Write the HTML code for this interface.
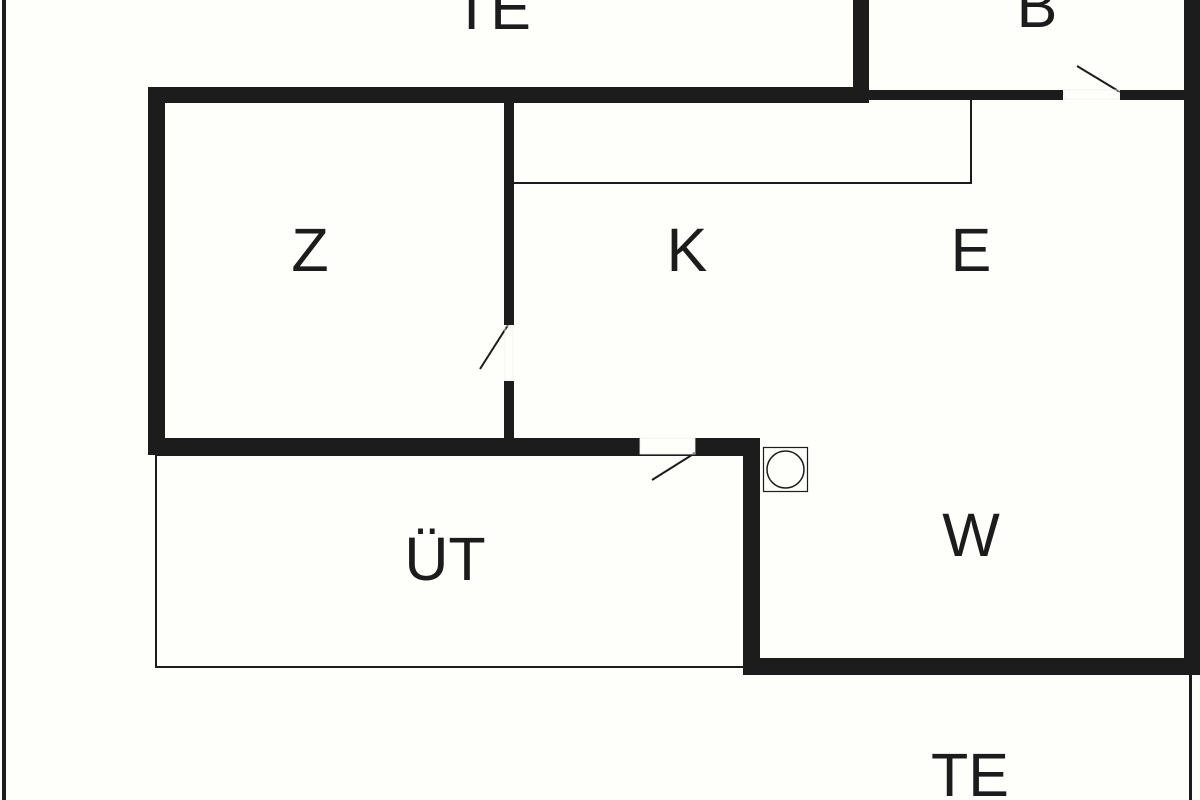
<!DOCTYPE html>
<html><head><meta charset="utf-8"><style>
html,body{margin:0;padding:0;background:#fefefa;}
svg{display:block}
text{font-family:"Liberation Sans",Arial,sans-serif;font-size:61px;fill:#1c1c1c;text-anchor:middle}
</style></head><body>
<svg width="1200" height="800" viewBox="0 0 1200 800" xmlns="http://www.w3.org/2000/svg">
<rect width="1200" height="800" fill="#fefefa"/>
<g fill="#1c1c1c">
<rect x="2" y="0" width="4" height="800"/>
<rect x="148" y="87" width="720" height="16"/>
<rect x="148" y="87" width="17" height="368"/>
<rect x="853" y="0" width="16" height="103"/>
<rect x="868" y="90" width="195" height="10"/>
<rect x="1120" y="90" width="70" height="10"/>
<rect x="1184" y="0" width="16" height="675"/>
<rect x="504" y="103" width="10" height="222"/>
<rect x="504" y="381" width="10" height="60"/>
<rect x="148" y="438" width="492" height="17"/>
<rect x="695" y="438" width="65" height="17"/>
<rect x="743" y="438" width="17" height="237"/>
<rect x="743" y="658" width="457" height="17"/>
<rect x="1189" y="675" width="3" height="125"/>
</g>
<g stroke="#1c1c1c" fill="none">
<polyline points="971,100 971,183 512,183" stroke-width="2"/>
<rect x="156" y="455" width="589" height="212" stroke-width="2"/>
<line x1="1077" y1="66" x2="1120" y2="92" stroke-width="2"/>
<line x1="508" y1="325" x2="480" y2="369" stroke-width="2"/>
<line x1="695" y1="453" x2="652" y2="480" stroke-width="2"/>
<rect x="763.5" y="447.5" width="44" height="44" stroke-width="1.2"/>
<circle cx="785.5" cy="469.5" r="18.5" stroke-width="1.5"/>
</g>
<g fill="none" stroke="#eee" stroke-width="0.8">
<rect x="1064" y="90" width="55" height="9"/>
<rect x="640" y="438" width="55" height="16"/>
<rect x="505" y="326" width="8" height="54"/>
</g>
<text x="492" y="29">TE</text>
<text x="1037" y="27">B</text>
<text x="310" y="271">Z</text>
<text x="687" y="271">K</text>
<text x="971" y="271">E</text>
<text x="971" y="556">W</text>
<text x="445" y="580">ÜT</text>
<text x="970" y="796">TE</text>
</svg>
</body></html>
